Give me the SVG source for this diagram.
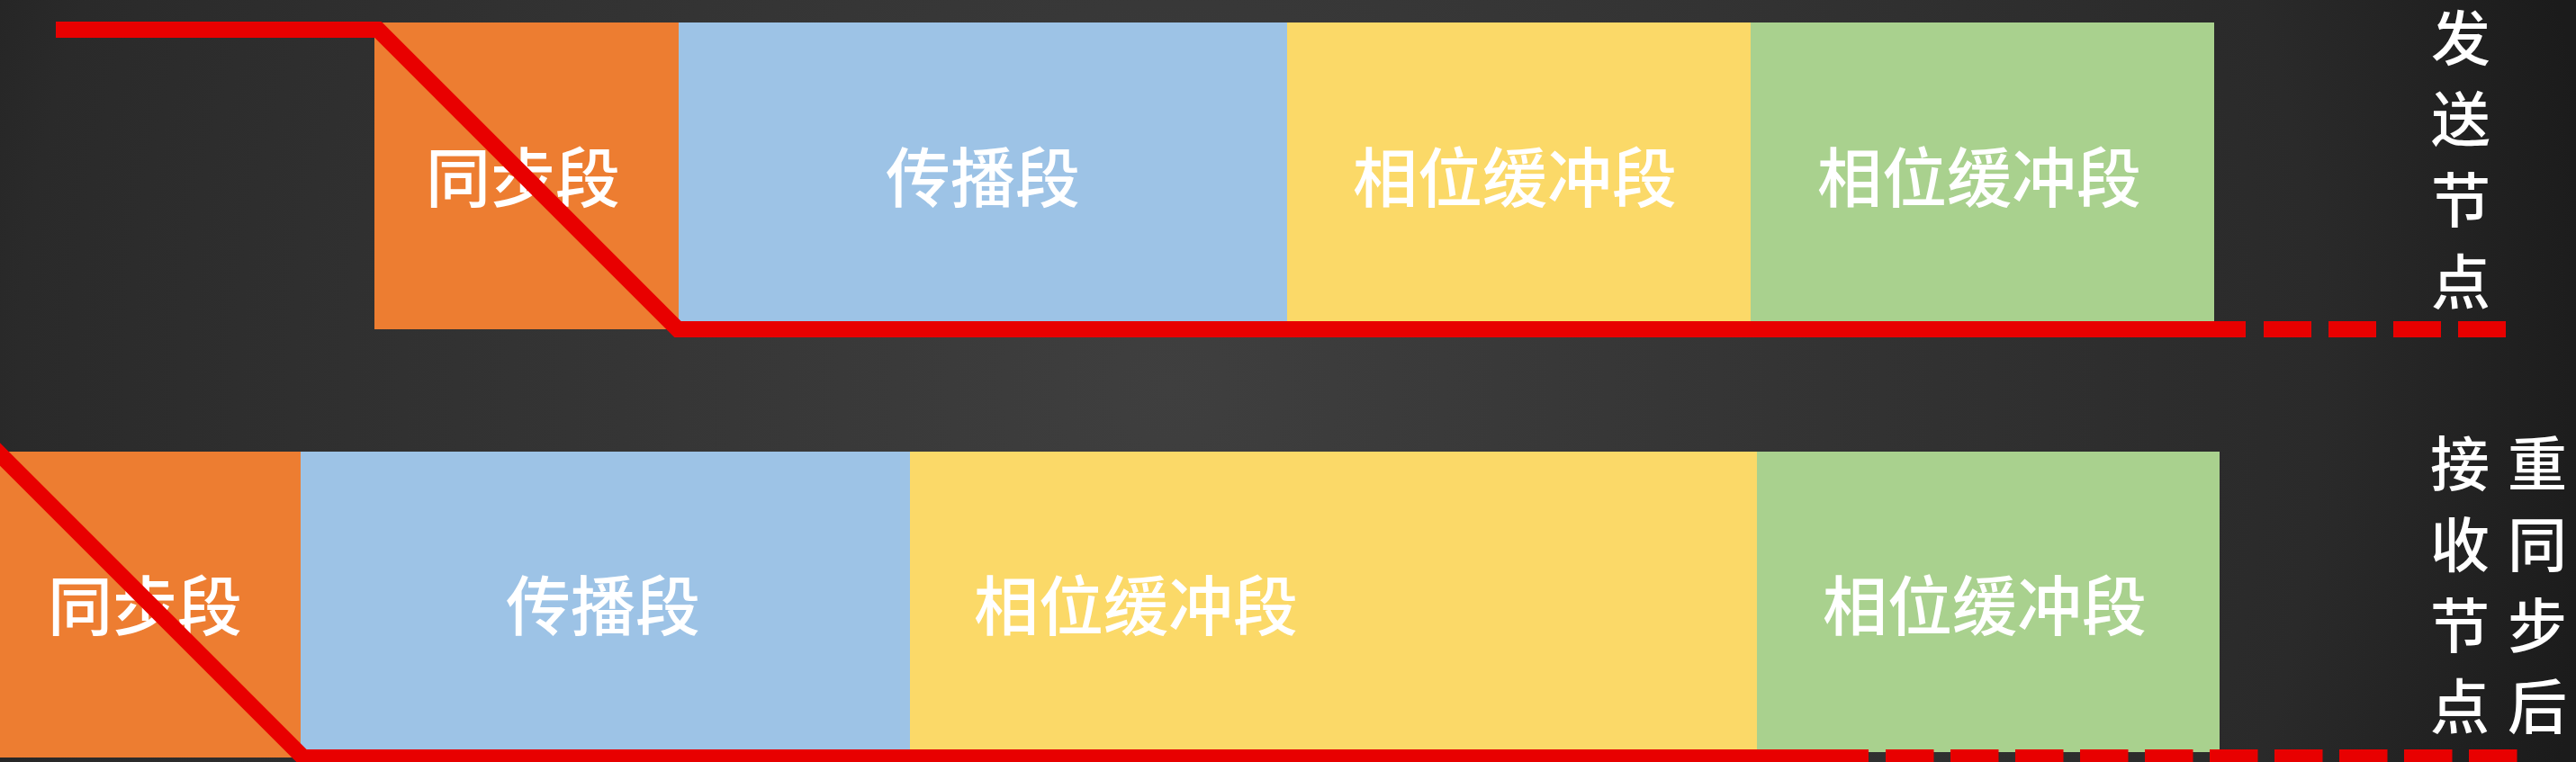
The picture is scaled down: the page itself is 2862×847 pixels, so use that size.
<svg xmlns="http://www.w3.org/2000/svg" width="2862" height="847" viewBox="0 0 2862 847">
  <defs>
    <radialGradient id="bg" gradientUnits="userSpaceOnUse" cx="1300" cy="430" r="1600">
      <stop offset="0" stop-color="#3f3f3f"/>
      <stop offset="0.8" stop-color="#2a2a2a"/>
      <stop offset="1" stop-color="#1b1b1b"/>
    </radialGradient>
  </defs>
  <style>
    .sync { fill: #ED7D31; }
    .prop { fill: #9DC3E6; }
    .pb1 { fill: #FBD968; }
    .pb2 { fill: #A9D18E; }
    .lbl { font-family: "Noto Sans CJK SC", "Noto Sans", sans-serif; font-size: 72px; font-weight: 500; fill: #FFFFFF; }
    .mid { text-anchor: middle; }
    .vert { font-family: "Noto Sans CJK SC", "Noto Sans", sans-serif; font-size: 66px; font-weight: 500; fill: #FFFFFF; text-anchor: middle; }
    .red { fill: none; stroke: #E80000; stroke-width: 18; stroke-linejoin: miter; stroke-miterlimit: 10; }
    .dash { fill: none; stroke: #E80000; stroke-width: 18; stroke-dasharray: 53 19; }
  </style>
  <rect x="0" y="0" width="2862" height="847" fill="url(#bg)"/>

  <!-- Sending node row -->
  <g id="tx-sync">
    <rect class="sync" x="416" y="25" width="338" height="341"/>
    <text class="lbl mid" x="581" y="224">同步段</text>
  </g>
  <g id="tx-prop">
    <rect class="prop" x="754" y="25" width="676" height="333"/>
    <text class="lbl mid" x="1092" y="224">传播段</text>
  </g>
  <g id="tx-pb1">
    <rect class="pb1" x="1430" y="25" width="515" height="333"/>
    <text class="lbl mid" x="1683" y="224">相位缓冲段</text>
  </g>
  <g id="tx-pb2">
    <rect class="pb2" x="1945" y="25" width="515" height="333"/>
    <text class="lbl mid" x="2199" y="224">相位缓冲段</text>
  </g>
  <g id="tx-label">
    <text class="vert" x="2734" y="67">发<tspan x="2734" dy="90">送</tspan><tspan x="2734" dy="90">节</tspan><tspan x="2734" dy="91">点</tspan></text>
  </g>

  <!-- Receiving node row -->
  <g id="rx-sync">
    <rect class="sync" x="0" y="502" width="334" height="340"/>
    <text class="lbl mid" x="161" y="700">同步段</text>
  </g>
  <g id="rx-prop">
    <rect class="prop" x="334" y="502" width="677" height="334"/>
    <text class="lbl mid" x="670" y="700">传播段</text>
  </g>
  <g id="rx-pb1">
    <rect class="pb1" x="1011" y="502" width="941" height="334"/>
    <text class="lbl" x="1082" y="700">相位缓冲段</text>
  </g>
  <g id="rx-pb2">
    <rect class="pb2" x="1952" y="502" width="514" height="334"/>
    <text class="lbl mid" x="2205" y="700">相位缓冲段</text>
  </g>
  <g id="rx-label">
    <text class="vert" x="2733" y="540">接<tspan x="2733" dy="90">收</tspan><tspan x="2733" dy="90">节</tspan><tspan x="2733" dy="90">点</tspan></text>
    <text class="vert" x="2819" y="540">重<tspan x="2819" dy="90">同</tspan><tspan x="2819" dy="90">步</tspan><tspan x="2819" dy="90">后</tspan></text>
  </g>

  <!-- Bit timing edges -->
  <g id="connectors">
    <polyline class="red" points="62,33 420,33 753,366 2495,366"/>
    <line class="dash" x1="2515" y1="366" x2="2790" y2="366"/>
    <polyline class="red" points="-20,485 337,842 2076,842"/>
    <line class="dash" x1="2095" y1="842" x2="2800" y2="842" style="stroke-dasharray: 53.5 18.5"/>
  </g>
</svg>
